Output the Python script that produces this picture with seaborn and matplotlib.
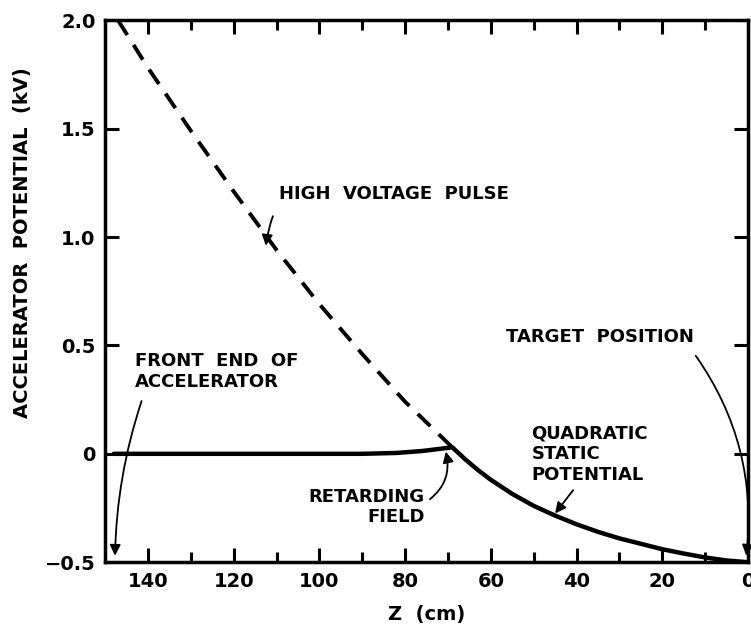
import numpy as np
import pandas as pd
import seaborn as sns
import matplotlib.pyplot as plt

# high voltage pulse (dashed)
pulse_z = [147, 140, 130, 120, 110, 100, 90, 80, 69]
pulse_v = [2.0, 1.78, 1.49, 1.21, 0.94, 0.69, 0.46, 0.24, 0.03]

# static potential (solid): flat front end, retarding field, quadratic part
static_z = [148, 130, 110, 90, 82, 76, 69, 66, 63, 60, 55, 50, 45, 40, 35, 30, 25, 20, 15, 10, 5, 0]
static_v = [0.0, 0.0, 0.0, 0.0, 0.004, 0.013, 0.03, -0.025, -0.075, -0.12, -0.185, -0.24,
            -0.285, -0.325, -0.36, -0.39, -0.415, -0.44, -0.46, -0.478, -0.492, -0.5]

xticks = [140, 120, 100, 80, 60, 40, 20, 0]
yticks = [-0.5, 0, 0.5, 1.0, 1.5, 2.0]
ytick_labels = ["\u22120.5", "0", "0.5", "1.0", "1.5", "2.0"]

sns.set_style("ticks")
plt.rcParams['font.family'] = ['DejaVu Sans']
plt.rcParams['font.weight'] = 'bold'
plt.rcParams['text.color'] = 'black'
plt.rcParams['axes.labelcolor'] = 'black'
plt.rcParams['axes.edgecolor'] = 'black'
plt.rcParams['xtick.color'] = 'black'
plt.rcParams['ytick.color'] = 'black'

fig = plt.figure(figsize=(7.51, 6.31), dpi=100)
ax = fig.add_axes([0.14, 0.109, 0.856, 0.859])

pulse = pd.DataFrame({"z": pulse_z, "v": pulse_v})
static = pd.DataFrame({"z": static_z, "v": static_v})
sns.lineplot(data=pulse, x="z", y="v", ax=ax, color="black", lw=2.8,
             linestyle=(0, (4.5, 3)), sort=False)
sns.lineplot(data=static, x="z", y="v", ax=ax, color="black", lw=3.2, sort=False)

ax.set_xlim(150, 0)
ax.set_ylim(-0.5, 2.0)
ax.set_xticks(xticks)
ax.set_xticks(range(130, 0, -20), minor=True)
ax.set_yticks(yticks)
ax.set_yticklabels(ytick_labels)
ax.tick_params(which="both", direction="in", top=True, right=True, width=2.2,
               labelsize=14, pad=7)
ax.tick_params(which="major", length=10)
ax.tick_params(which="minor", length=7)
for s in ax.spines.values():
    s.set_linewidth(2.5)

ax.set_xlabel("Z  (cm)", fontsize=14, fontweight="bold", labelpad=10)
ax.set_ylabel("ACCELERATOR  POTENTIAL  (kV)", fontsize=14, fontweight="bold")
ax.yaxis.set_label_coords(-0.113, 0.59)

akw = dict(fontsize=13, fontweight="bold", color="black")
ap = dict(arrowstyle="-|>", color="black", lw=1.3, mutation_scale=16)

ax.annotate("HIGH  VOLTAGE  PULSE", xy=(112.5, 0.96), xytext=(109.5, 1.2),
            ha="left", va="center", **akw,
            arrowprops=dict(ap, connectionstyle="arc3,rad=0.1", shrinkA=8, shrinkB=0,
                            relpos=(0.02, 0.5)))
ax.annotate("FRONT  END  OF\nACCELERATOR", xy=(147.7, -0.47), xytext=(143, 0.38),
            ha="left", va="center", linespacing=1.25, **akw,
            arrowprops=dict(ap, connectionstyle="arc3,rad=0.08", shrinkA=5, shrinkB=0,
                            relpos=(0.06, 0)))
ax.annotate("TARGET  POSITION", xy=(0.4, -0.47), xytext=(34.5, 0.54),
            ha="center", va="center", **akw,
            arrowprops=dict(ap, connectionstyle="arc3,rad=-0.2", shrinkA=6, shrinkB=0,
                            relpos=(0.97, 0)))
ax.annotate("QUADRATIC\nSTATIC\nPOTENTIAL", xy=(45, -0.275), xytext=(50.5, 0.0),
            ha="left", va="center", linespacing=1.2, **akw,
            arrowprops=dict(ap, connectionstyle="arc3,rad=0", shrinkA=3, shrinkB=0,
                            relpos=(0.4, 0)))
ax.annotate("RETARDING\nFIELD", xy=(70.5, 0.01), xytext=(75.5, -0.245),
            ha="right", va="center", linespacing=1.2, **akw,
            arrowprops=dict(ap, connectionstyle="arc3,rad=0.35", shrinkA=2, shrinkB=0,
                            relpos=(1.0, 0.6)))

fig.savefig("out.png", dpi=100)
